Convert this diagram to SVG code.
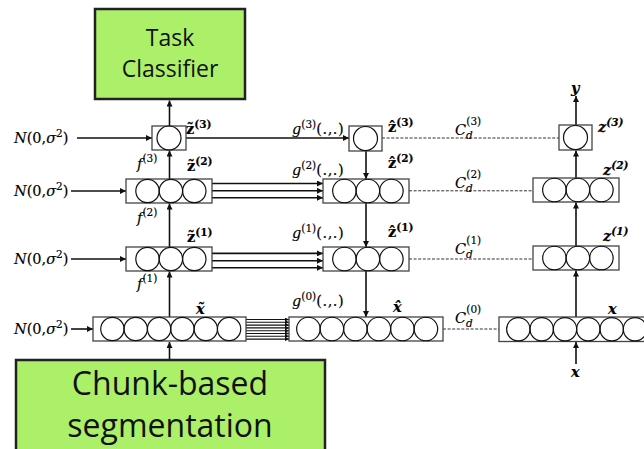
<svg xmlns="http://www.w3.org/2000/svg" width="644" height="449" viewBox="0 0 644 449">
  <style>
    .bg { fill: #ffffff; }
    .green { fill: #acf06a; stroke: #222; stroke-width: 2.5; }
    .big { font-family: "Open Sans", "Liberation Sans", sans-serif; fill: #111; text-anchor: middle; }
    .box { fill: #fff; stroke: #444; stroke-width: 1.3; }
    .cell { fill: none; stroke: #111; stroke-width: 1.2; }
    .wire { stroke: #111; stroke-width: 1.6; fill: none; }
    .thin { stroke: #111; stroke-width: 1.1; fill: none; }
    .dash { stroke: #333; stroke-width: 1; stroke-dasharray: 3 1.6; fill: none; }
    .m { font-family: "DejaVu Serif", "Liberation Serif", serif; font-size: 14.5px; fill: #000; stroke: #000; stroke-width: 0.15; }
    .mi { font-style: italic; }
    .mb { font-weight: bold; }
    .sup { font-size: 10.5px; }
  </style>
  <defs>
    <marker id="ah" markerUnits="userSpaceOnUse" markerWidth="7" markerHeight="6" refX="6" refY="3" orient="auto">
      <path d="M0,0 L6,3 L0,6 z" fill="#111"/>
    </marker>
    <marker id="ahs" markerUnits="userSpaceOnUse" markerWidth="5" markerHeight="4" refX="4" refY="2" orient="auto">
      <path d="M0,0 L4,2 L0,4 z" fill="#111"/>
    </marker>
  </defs>

  <rect class="bg" x="0" y="0" width="644" height="449"/>

  <!-- connectors -->
  <g id="connectors">
    <!-- encoder column (noisy path) -->
    <line class="wire" x1="169.5" y1="360" x2="169.5" y2="342" marker-end="url(#ah)"/>
    <line class="wire" x1="169.5" y1="317" x2="169.5" y2="271.5" marker-end="url(#ah)"/>
    <line class="wire" x1="169.5" y1="247" x2="169.5" y2="203.5" marker-end="url(#ah)"/>
    <line class="wire" x1="169.5" y1="179" x2="169.5" y2="150.5" marker-end="url(#ah)"/>
    <line class="wire" x1="169.5" y1="126" x2="169.5" y2="100.5" marker-end="url(#ah)"/>
    <!-- noise inputs -->
    <line class="wire" x1="77" y1="138" x2="152" y2="138" marker-end="url(#ah)"/>
    <line class="wire" x1="71" y1="191" x2="126" y2="191" marker-end="url(#ah)"/>
    <line class="wire" x1="71" y1="259" x2="126" y2="259" marker-end="url(#ah)"/>
    <line class="wire" x1="71" y1="329" x2="93" y2="329" marker-end="url(#ah)"/>
    <!-- lateral connections into the decoder -->
    <line class="wire" x1="186" y1="138" x2="349" y2="138" marker-end="url(#ah)"/>
    <line class="wire" x1="212" y1="183.5" x2="323" y2="183.5" marker-end="url(#ah)"/>
    <line class="wire" x1="212" y1="190.8" x2="323" y2="190.8" marker-end="url(#ah)"/>
    <line class="wire" x1="212" y1="197.8" x2="323" y2="197.8" marker-end="url(#ah)"/>
    <line class="wire" x1="212" y1="253.4" x2="323" y2="253.4" marker-end="url(#ah)"/>
    <line class="wire" x1="212" y1="260.7" x2="323" y2="260.7" marker-end="url(#ah)"/>
    <line class="wire" x1="212" y1="267.8" x2="323" y2="267.8" marker-end="url(#ah)"/>
    <g class="thin">
      <line x1="246" y1="319.5" x2="289" y2="319.5" marker-end="url(#ahs)"/>
      <line x1="246" y1="322.3" x2="289" y2="322.3" marker-end="url(#ahs)"/>
      <line x1="246" y1="325.1" x2="289" y2="325.1" marker-end="url(#ahs)"/>
      <line x1="246" y1="327.9" x2="289" y2="327.9" marker-end="url(#ahs)"/>
      <line x1="246" y1="330.7" x2="289" y2="330.7" marker-end="url(#ahs)"/>
      <line x1="246" y1="333.5" x2="289" y2="333.5" marker-end="url(#ahs)"/>
      <line x1="246" y1="336.3" x2="289" y2="336.3" marker-end="url(#ahs)"/>
      <line x1="246" y1="339.1" x2="289" y2="339.1" marker-end="url(#ahs)"/>
    </g>
    <!-- decoder column -->
    <line class="wire" x1="366" y1="151" x2="366" y2="179" marker-end="url(#ah)"/>
    <line class="wire" x1="366" y1="203" x2="366" y2="247" marker-end="url(#ah)"/>
    <line class="wire" x1="366" y1="271" x2="366" y2="317" marker-end="url(#ah)"/>
    <!-- reconstruction costs -->
    <line class="dash" x1="382" y1="138" x2="559" y2="138"/>
    <line class="dash" x1="409" y1="190.8" x2="533" y2="190.8"/>
    <line class="dash" x1="409" y1="259" x2="533" y2="259"/>
    <line class="dash" x1="443" y1="329" x2="499" y2="329"/>
    <!-- clean encoder column -->
    <line class="wire" x1="576" y1="364" x2="576" y2="342" marker-end="url(#ah)"/>
    <line class="wire" x1="576" y1="317" x2="576" y2="270.5" marker-end="url(#ah)"/>
    <line class="wire" x1="576" y1="246" x2="576" y2="202.5" marker-end="url(#ah)"/>
    <line class="wire" x1="576" y1="178" x2="576" y2="150.5" marker-end="url(#ah)"/>
    <line class="wire" x1="576" y1="125" x2="576" y2="96" marker-end="url(#ah)"/>
  </g>

  <!-- task classifier -->
  <g id="task-classifier">
    <rect class="green" x="95" y="9" width="150" height="90"/>
    <text class="big" x="170" y="46" font-size="23">Task</text>
    <text class="big" x="170" y="77" font-size="23">Classifier</text>
  </g>

  <!-- chunk-based segmentation -->
  <g id="segmentation">
    <rect class="green" x="16" y="360" width="309" height="100"/>
    <text class="big" x="170" y="395" font-size="32">Chunk-based</text>
    <text class="big" x="170" y="437" font-size="32">segmentation</text>
  </g>

  <!-- noisy encoder -->
  <g id="enc-z3">
    <rect class="box" x="152" y="126" width="34" height="24"/>
    <circle class="cell" cx="169" cy="138" r="12"/>
  </g>
  <g id="enc-z2">
    <rect class="box" x="126" y="179" width="86" height="24"/>
    <circle class="cell" cx="147.5" cy="191" r="11.7"/>
    <circle class="cell" cx="170.9" cy="191" r="11.7"/>
    <circle class="cell" cx="194.3" cy="191" r="11.7"/>
  </g>
  <g id="enc-z1">
    <rect class="box" x="126" y="247" width="86" height="24"/>
    <circle class="cell" cx="147.5" cy="259" r="11.7"/>
    <circle class="cell" cx="170.9" cy="259" r="11.7"/>
    <circle class="cell" cx="194.3" cy="259" r="11.7"/>
  </g>
  <g id="enc-x">
    <rect class="box" x="93" y="317" width="153" height="24"/>
    <circle class="cell" cx="112.4" cy="329" r="11.67"/>
    <circle class="cell" cx="135.7" cy="329" r="11.67"/>
    <circle class="cell" cx="159.1" cy="329" r="11.67"/>
    <circle class="cell" cx="182.4" cy="329" r="11.67"/>
    <circle class="cell" cx="205.8" cy="329" r="11.67"/>
    <circle class="cell" cx="229.1" cy="329" r="11.67"/>
  </g>

  <!-- decoder -->
  <g id="dec-z3">
    <rect class="box" x="349" y="126" width="33" height="25"/>
    <circle class="cell" cx="365.5" cy="138.5" r="12"/>
  </g>
  <g id="dec-z2">
    <rect class="box" x="323" y="179" width="86" height="24"/>
    <circle class="cell" cx="344.4" cy="191" r="11.75"/>
    <circle class="cell" cx="367.9" cy="191" r="11.75"/>
    <circle class="cell" cx="391.4" cy="191" r="11.75"/>
  </g>
  <g id="dec-z1">
    <rect class="box" x="323" y="247" width="86" height="24"/>
    <circle class="cell" cx="344.4" cy="259" r="11.75"/>
    <circle class="cell" cx="367.9" cy="259" r="11.75"/>
    <circle class="cell" cx="391.4" cy="259" r="11.75"/>
  </g>
  <g id="dec-x">
    <rect class="box" x="289" y="317" width="154" height="24"/>
    <circle class="cell" cx="308.4" cy="329" r="11.75"/>
    <circle class="cell" cx="331.9" cy="329" r="11.75"/>
    <circle class="cell" cx="355.4" cy="329" r="11.75"/>
    <circle class="cell" cx="378.9" cy="329" r="11.75"/>
    <circle class="cell" cx="402.4" cy="329" r="11.75"/>
    <circle class="cell" cx="425.9" cy="329" r="11.75"/>
  </g>

  <!-- clean encoder -->
  <g id="clean-z3">
    <rect class="box" x="559" y="125" width="33" height="25"/>
    <circle class="cell" cx="575.5" cy="137.5" r="12"/>
  </g>
  <g id="clean-z2">
    <rect class="box" x="533" y="178" width="86" height="24"/>
    <circle class="cell" cx="554.4" cy="190" r="11.75"/>
    <circle class="cell" cx="577.9" cy="190" r="11.75"/>
    <circle class="cell" cx="601.4" cy="190" r="11.75"/>
  </g>
  <g id="clean-z1">
    <rect class="box" x="533" y="246" width="86" height="24"/>
    <circle class="cell" cx="554.4" cy="258" r="11.75"/>
    <circle class="cell" cx="577.9" cy="258" r="11.75"/>
    <circle class="cell" cx="601.4" cy="258" r="11.75"/>
  </g>
  <g id="clean-x">
    <rect class="box" x="499" y="317" width="160" height="24.5"/>
    <circle class="cell" cx="518.3" cy="329.2" r="11.67"/>
    <circle class="cell" cx="541.7" cy="329.2" r="11.67"/>
    <circle class="cell" cx="565" cy="329.2" r="11.67"/>
    <circle class="cell" cx="588.3" cy="329.2" r="11.67"/>
    <circle class="cell" cx="611.7" cy="329.2" r="11.67"/>
    <circle class="cell" cx="635" cy="329.2" r="11.67"/>
  </g>

  <!-- labels -->
  <g id="labels" class="m">
    <!-- noise sources -->
    <text x="14" y="143"><tspan class="mi">N</tspan>(0,<tspan class="mi">σ</tspan><tspan class="sup" dy="-6">2</tspan><tspan dy="6">)</tspan></text>
    <text x="14" y="196"><tspan class="mi">N</tspan>(0,<tspan class="mi">σ</tspan><tspan class="sup" dy="-6">2</tspan><tspan dy="6">)</tspan></text>
    <text x="14" y="264"><tspan class="mi">N</tspan>(0,<tspan class="mi">σ</tspan><tspan class="sup" dy="-6">2</tspan><tspan dy="6">)</tspan></text>
    <text x="14" y="334"><tspan class="mi">N</tspan>(0,<tspan class="mi">σ</tspan><tspan class="sup" dy="-6">2</tspan><tspan dy="6">)</tspan></text>

    <!-- encoder mappings -->
    <text x="137" y="169"><tspan class="mi">f</tspan><tspan class="sup" dy="-7">(3)</tspan></text>
    <text x="137" y="223"><tspan class="mi">f</tspan><tspan class="sup" dy="-7">(2)</tspan></text>
    <text x="137" y="289"><tspan class="mi">f</tspan><tspan class="sup" dy="-7">(1)</tspan></text>

    <!-- noisy activations -->
    <text x="186" y="134" class="mb">z̃<tspan class="sup" dy="-6">(3)</tspan></text>
    <text x="187" y="171" class="mb">z̃<tspan class="sup" dy="-6">(2)</tspan></text>
    <text x="187" y="242" class="mb">z̃<tspan class="sup" dy="-6">(1)</tspan></text>
    <text x="196" y="314" class="mb mi">x̃</text>

    <!-- decoder functions -->
    <text x="292" y="134"><tspan class="mi">g</tspan><tspan class="sup" dy="-6">(3)</tspan><tspan dy="6" letter-spacing="0.6">(.,.)</tspan></text>
    <text x="292" y="175"><tspan class="mi">g</tspan><tspan class="sup" dy="-6">(2)</tspan><tspan dy="6" letter-spacing="0.6">(.,.)</tspan></text>
    <text x="292" y="238"><tspan class="mi">g</tspan><tspan class="sup" dy="-6">(1)</tspan><tspan dy="6" letter-spacing="0.6">(.,.)</tspan></text>
    <text x="292" y="306"><tspan class="mi">g</tspan><tspan class="sup" dy="-6">(0)</tspan><tspan dy="6" letter-spacing="0.6">(.,.)</tspan></text>

    <!-- reconstructions -->
    <text x="388" y="132" class="mb">ẑ<tspan class="sup" dy="-6">(3)</tspan></text>
    <text x="388" y="168" class="mb">ẑ<tspan class="sup" dy="-6">(2)</tspan></text>
    <text x="388" y="237" class="mb">ẑ<tspan class="sup" dy="-6">(1)</tspan></text>
    <text x="393" y="312" class="mb mi">x̂</text>

    <!-- denoising costs -->
    <text x="455" y="135"><tspan class="mi">C</tspan><tspan class="sup mi" dy="4">d</tspan><tspan class="sup" dx="-6.5" dy="-14">(3)</tspan></text>
    <text x="455" y="188"><tspan class="mi">C</tspan><tspan class="sup mi" dy="4">d</tspan><tspan class="sup" dx="-6.5" dy="-14">(2)</tspan></text>
    <text x="455" y="254"><tspan class="mi">C</tspan><tspan class="sup mi" dy="4">d</tspan><tspan class="sup" dx="-6.5" dy="-14">(1)</tspan></text>
    <text x="455" y="323"><tspan class="mi">C</tspan><tspan class="sup mi" dy="4">d</tspan><tspan class="sup" dx="-6.5" dy="-14">(0)</tspan></text>

    <!-- clean path -->
    <text x="571" y="93" class="mb mi">y</text>
    <text x="598" y="132" class="mb mi">z<tspan class="sup" dy="-6">(3)</tspan></text>
    <text x="603" y="175" class="mb mi">z<tspan class="sup" dy="-6">(2)</tspan></text>
    <text x="603" y="241" class="mb mi">z<tspan class="sup" dy="-6">(1)</tspan></text>
    <text x="608" y="314" class="mb mi">x</text>
    <text x="571" y="377" class="mb mi">x</text>
  </g>
</svg>
